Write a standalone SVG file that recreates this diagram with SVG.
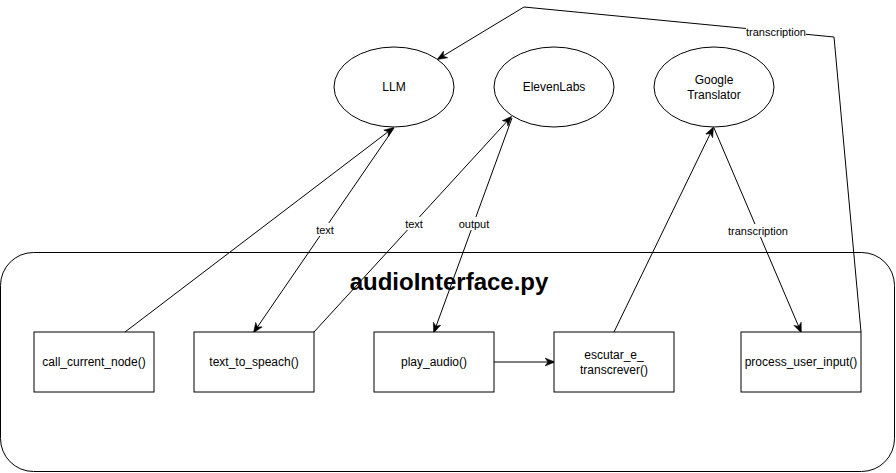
<svg xmlns="http://www.w3.org/2000/svg" width="896" height="473" viewBox="0 0 896 473">
<style>
.shape{fill:#fff;stroke:#000;stroke-width:1}
.t{font-family:"Liberation Sans",Arial,sans-serif;font-size:12px;fill:#000;text-anchor:middle}
.lbl{font-family:"Liberation Sans",Arial,sans-serif;font-size:11px;fill:#000;text-anchor:middle}
.lblbg{fill:#fff}
.edge{fill:none;stroke:#000;stroke-width:1}
.title{font-family:"Liberation Sans",Arial,sans-serif;font-size:24px;font-weight:bold;fill:#000;text-anchor:middle}
</style>
<defs>
<marker id="arr" viewBox="0 0 10 10" refX="9" refY="5" markerWidth="10" markerHeight="10" markerUnits="userSpaceOnUse" orient="auto">
<path d="M0,1 L10,5 L0,9 L3,5 z" fill="#000" stroke="#000" stroke-width="0.5"/>
</marker>
</defs>
<rect width="896" height="473" fill="#fff"/>
<g id="container">
<rect class="shape" x="0.5" y="252.5" width="894" height="219" rx="33" ry="33"/>
</g>
<g id="ellipse-llm"><ellipse class="shape" cx="394" cy="87" rx="60" ry="40"/><text class="t" x="394" y="91">LLM</text></g>
<g id="ellipse-elevenlabs"><ellipse class="shape" cx="554" cy="87" rx="60" ry="40"/><text class="t" x="554" y="91">ElevenLabs</text></g>
<g id="ellipse-google"><ellipse class="shape" cx="714" cy="87" rx="60" ry="40"/><text class="t" x="714" y="84">Google</text><text class="t" x="714" y="99">Translator</text></g>
<g id="connectors">
<path class="edge" d="M125,332 L393,128" marker-end="url(#arr)"/>
<path class="edge" d="M394,128 L254,332" marker-end="url(#arr)"/>
<path class="edge" d="M314,332 L511,117" marker-end="url(#arr)"/>
<path class="edge" d="M512,118 L434,332" marker-end="url(#arr)"/>
<path class="edge" d="M494,362 L554,362" marker-end="url(#arr)"/>
<path class="edge" d="M614,332 L713,128" marker-end="url(#arr)"/>
<path class="edge" d="M714,128 L801,332" marker-end="url(#arr)"/>
<path class="edge" d="M861,332 L834,37 L524,7 L438,59" marker-end="url(#arr)"/>
<rect class="lblbg" x="314" y="223" width="22" height="13"/>
<text class="lbl" x="325" y="234">text</text>
<rect class="lblbg" x="403" y="217" width="22" height="13"/>
<text class="lbl" x="414" y="228">text</text>
<rect class="lblbg" x="457" y="217" width="34" height="13"/>
<text class="lbl" x="474" y="228">output</text>
<rect class="lblbg" x="727" y="224" width="62" height="13"/>
<text class="lbl" x="758" y="235">transcription</text>
<rect class="lblbg" x="746" y="25" width="60" height="13"/>
<text class="lbl" x="776" y="36">transcription</text>
</g>
<g id="title"><text class="title" x="449" y="290">audioInterface.py</text></g>
<g id="node-call-current-node"><rect class="shape" x="34" y="332" width="120" height="60"/><text class="t" x="94" y="366">call_current_node()</text></g>
<g id="node-text-to-speach"><rect class="shape" x="194" y="332" width="120" height="60"/><text class="t" x="254" y="366">text_to_speach()</text></g>
<g id="node-play-audio"><rect class="shape" x="374" y="332" width="120" height="60"/><text class="t" x="434" y="366">play_audio()</text></g>
<g id="node-escutar"><rect class="shape" x="554" y="332" width="120" height="60"/><text class="t" x="614" y="359">escutar_e_</text><text class="t" x="614" y="374">transcrever()</text></g>
<g id="node-process-user-input"><rect class="shape" x="741" y="332" width="120" height="60"/><text class="t" x="801" y="366">process_user_input()</text></g>
</svg>
